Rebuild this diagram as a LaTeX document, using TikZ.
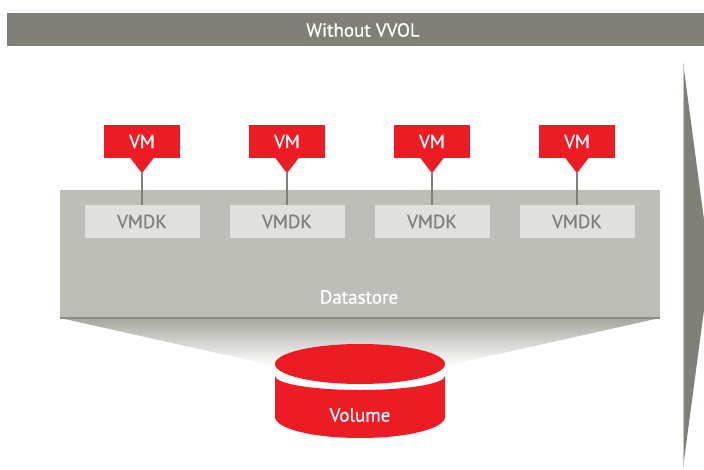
\documentclass[tikz,border=0pt]{standalone}
\usepackage{fontspec}
\setmainfont{PT Sans}
\newfontfamily\lblfont{PT Sans}[BoldFont=PT Sans, BoldFeatures={FakeBold=0.5}]
\usetikzlibrary{calc}
\definecolor{fjred}{HTML}{ED1C24}
\definecolor{fjgray}{HTML}{808078}
\definecolor{storegray}{HTML}{BEBEB9}
\definecolor{diskgray}{HTML}{E0E0DE}
\definecolor{edgegray}{HTML}{8E8E88}
\tikzset{
  lbl/.style={font=\lblfont\bfseries\fontsize{19}{21}\selectfont, inner sep=0pt},
  vmbox/.style={lbl, fill=fjred, text=white, minimum width=76pt, minimum height=33pt},
  vmdkbox/.style={lbl, fill=diskgray, text=fjgray, minimum width=115pt, minimum height=33pt},
  pointer/.style={fill=fjred},
  link/.style={draw=fjgray, line width=2.2pt},
}
\begin{document}
\begin{tikzpicture}[x=1pt, y=-1pt]
\useasboundingbox (0,0) rectangle (704,469);

% title bar
\fill[fjgray] (7,13) rectangle (704,46);
\node[lbl, text=white] (header) at (363,30) {Without VVOL};

% right-hand arrow
\fill[fjgray] (683,62) -- (710,265) -- (683,468) -- cycle;
\draw[color=fjgray!45, line width=1pt] (683.5,64) -- (683.5,466);

% funnel from datastore to volume
\shade[top color=fjgray!70, bottom color=white]
  (60,318) -- (660,318) -- (445,366) -- (275,366) -- cycle;

% datastore
\fill[storegray] (60,190) rectangle (660,318);
\draw[edgegray, line width=1.5pt] (60,318) -- (660,318);
\node[lbl, text=white] (datastore) at (359,297) {Datastore};

% VMs and their disks
\foreach \i/\x in {1/142, 2/287, 3/432, 4/577} {
  \node[vmdkbox] (vmdk\i) at (\x,221.5) {VMDK};
  \node[vmbox] (vm\i) at (\x,141.5) {VM};
  \fill[pointer] ($(vm\i.south)+(-11.5,0)$) -- ($(vm\i.south)+(0,15)$) -- ($(vm\i.south)+(11.5,0)$) -- cycle;
  \coordinate (tip\i) at ($(vm\i.south)+(0,15)$);
  \draw[link] (tip\i) -- (vmdk\i.north);
}

% volume cylinder: body below a white gap, then the top face
\fill[fjred] (275,376) arc[start angle=180, end angle=0, x radius=85, y radius=14]
  -- (445,417) arc[start angle=0, end angle=180, x radius=85, y radius=21] -- cycle;
\fill[fjred] (360,364) ellipse[x radius=85, y radius=20];
\node[lbl, text=white] (volume) at (360,415) {Volume};
\end{tikzpicture}
\end{document}
